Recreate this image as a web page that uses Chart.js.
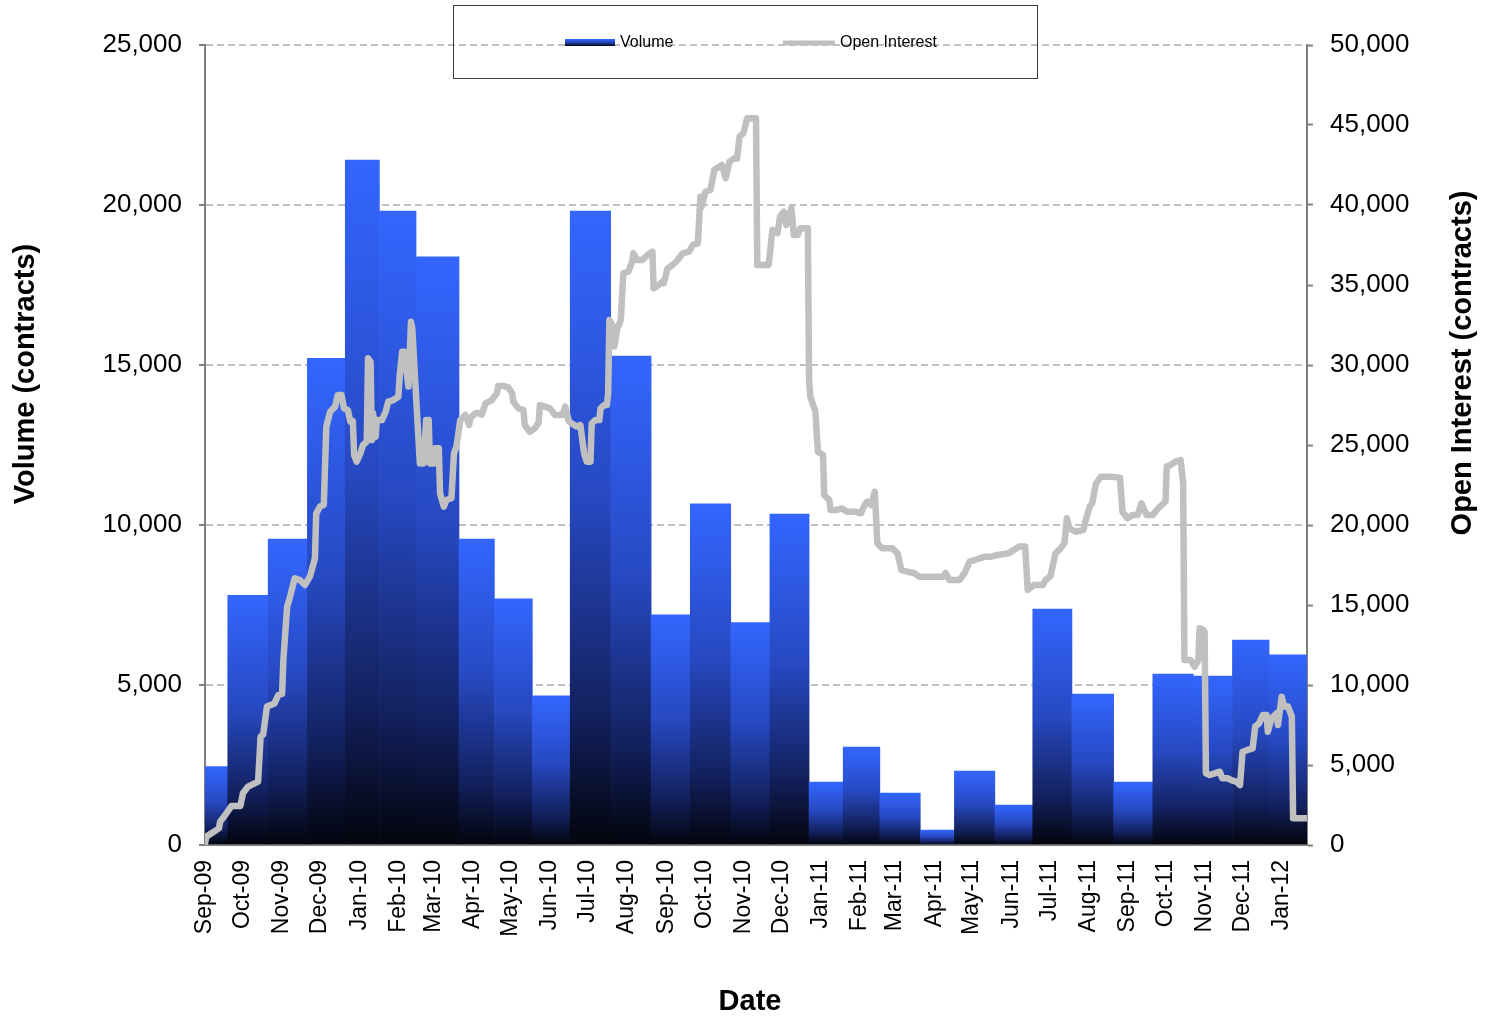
<!DOCTYPE html>
<html>
<head>
<meta charset="utf-8">
<title>Volume and Open Interest</title>
<script src="https://cdn.jsdelivr.net/npm/chart.js@4.4.1/dist/chart.umd.min.js"></script>
<style>
    html, body { margin: 0; padding: 0; background: #fff; }
    #wrap { width: 1485px; height: 1018px; }
</style>
</head>
<body>
<div id="wrap"><canvas id="grafico" width="1485" height="1018"></canvas></div>
<script>
// first trading day; every date below is counted in days from here
const startDate = '2009-09-01';

const monthLabels = ['Sep-09', 'Oct-09', 'Nov-09', 'Dec-09', 'Jan-10', 'Feb-10', 'Mar-10', 'Apr-10',
    'May-10', 'Jun-10', 'Jul-10', 'Aug-10', 'Sep-10', 'Oct-10', 'Nov-10', 'Dec-10', 'Jan-11', 'Feb-11',
    'Mar-11', 'Apr-11', 'May-11', 'Jun-11', 'Jul-11', 'Aug-11', 'Sep-11', 'Oct-11', 'Nov-11', 'Dec-11', 'Jan-12'];

// end of each volume period (one per month label)
const periodEnds = ['2009-09-19', '2009-10-21', '2009-11-21', '2009-12-21', '2010-01-17', '2010-02-15',
    '2010-03-21', '2010-04-18', '2010-05-18', '2010-06-17', '2010-07-19', '2010-08-20', '2010-09-20',
    '2010-10-22', '2010-11-22', '2010-12-23', '2011-01-19', '2011-02-17', '2011-03-21', '2011-04-17',
    '2011-05-19', '2011-06-18', '2011-07-19', '2011-08-21', '2011-09-21', '2011-10-23', '2011-11-23',
    '2011-12-22', '2012-01-21'];

const volume = [2450, 7800, 9560, 15210, 21400, 19810, 18380, 9560, 7690, 4660, 19810, 15280, 7190,
    10660, 6950, 10340, 1970, 3060, 1625, 470, 2310, 1250, 7375, 4720, 1970, 5340, 5280, 6400, 5940];

const oiDates = [
    '2009-09-01', '2009-09-02', '2009-09-12', '2009-09-13', '2009-09-17', '2009-09-22', '2009-09-29',
    '2009-10-01', '2009-10-05', '2009-10-13', '2009-10-15', '2009-10-17', '2009-10-20', '2009-10-26', '2009-10-29',
    '2009-11-01', '2009-11-02', '2009-11-05', '2009-11-07', '2009-11-11', '2009-11-15', '2009-11-19', '2009-11-23', '2009-11-27', '2009-11-28',
    '2009-12-01', '2009-12-04', '2009-12-06', '2009-12-09', '2009-12-13', '2009-12-15', '2009-12-18', '2009-12-20', '2009-12-23', '2009-12-25', '2009-12-27', '2009-12-28', '2009-12-30',
    '2010-01-02', '2010-01-04', '2010-01-07', '2010-01-08', '2010-01-10', '2010-01-11', '2010-01-12', '2010-01-14', '2010-01-15', '2010-01-19', '2010-01-22', '2010-01-24', '2010-01-28',
    '2010-02-01', '2010-02-02', '2010-02-04', '2010-02-06', '2010-02-08', '2010-02-09', '2010-02-11', '2010-02-12', '2010-02-18', '2010-02-21', '2010-02-23', '2010-02-25', '2010-02-26',
    '2010-03-01', '2010-03-02', '2010-03-05', '2010-03-06', '2010-03-09', '2010-03-11', '2010-03-15', '2010-03-17', '2010-03-19', '2010-03-22', '2010-03-26', '2010-03-29', '2010-03-30',
    '2010-04-03', '2010-04-05', '2010-04-08', '2010-04-11', '2010-04-16', '2010-04-20', '2010-04-21', '2010-04-25', '2010-04-29',
    '2010-05-02', '2010-05-03', '2010-05-07', '2010-05-11', '2010-05-12', '2010-05-16', '2010-05-20', '2010-05-23', '2010-05-24', '2010-05-28',
    '2010-06-01', '2010-06-05', '2010-06-11', '2010-06-13', '2010-06-16', '2010-06-20', '2010-06-22', '2010-06-25', '2010-06-28', '2010-06-30',
    '2010-07-03', '2010-07-04', '2010-07-07', '2010-07-10', '2010-07-11', '2010-07-14', '2010-07-16', '2010-07-17', '2010-07-18', '2010-07-21', '2010-07-22', '2010-07-24', '2010-07-27', '2010-07-29',
    '2010-08-02', '2010-08-05', '2010-08-06', '2010-08-09', '2010-08-13', '2010-08-17', '2010-08-21', '2010-08-22', '2010-08-26', '2010-08-29', '2010-08-30',
    '2010-09-02', '2010-09-06', '2010-09-10', '2010-09-14', '2010-09-19', '2010-09-22', '2010-09-26', '2010-09-28', '2010-09-29',
    '2010-10-02', '2010-10-06', '2010-10-09', '2010-10-13', '2010-10-15', '2010-10-18', '2010-10-21', '2010-10-25', '2010-10-27', '2010-10-29',
    '2010-11-01', '2010-11-04', '2010-11-11', '2010-11-12', '2010-11-21', '2010-11-24', '2010-11-28', '2010-11-30',
    '2010-12-03', '2010-12-05', '2010-12-09', '2010-12-11', '2010-12-14', '2010-12-16', '2010-12-22', '2010-12-23', '2010-12-24', '2010-12-28', '2010-12-30',
    '2011-01-03', '2011-01-04', '2011-01-08', '2011-01-09', '2011-01-14', '2011-01-18', '2011-01-22', '2011-01-28',
    '2011-02-02', '2011-02-05', '2011-02-07', '2011-02-10', '2011-02-13', '2011-02-15', '2011-02-19', '2011-02-27',
    '2011-03-03', '2011-03-06', '2011-03-11', '2011-03-16', '2011-03-20', '2011-03-29',
    '2011-04-08', '2011-04-10', '2011-04-13', '2011-04-21', '2011-04-25', '2011-04-29',
    '2011-05-03', '2011-05-07', '2011-05-11', '2011-05-16', '2011-05-21', '2011-05-30',
    '2011-06-03', '2011-06-07', '2011-06-12', '2011-06-14', '2011-06-19', '2011-06-26', '2011-06-28',
    '2011-07-02', '2011-07-06', '2011-07-10', '2011-07-13', '2011-07-15', '2011-07-17', '2011-07-22', '2011-07-28', '2011-07-30',
    '2011-08-02', '2011-08-04', '2011-08-07', '2011-08-11', '2011-08-19', '2011-08-26', '2011-08-28',
    '2011-09-01', '2011-09-05', '2011-09-09', '2011-09-12', '2011-09-16', '2011-09-21', '2011-09-24', '2011-09-28',
    '2011-10-01', '2011-10-02', '2011-10-05', '2011-10-09', '2011-10-13', '2011-10-15', '2011-10-16', '2011-10-21', '2011-10-24', '2011-10-27', '2011-10-28', '2011-10-31',
    '2011-11-01', '2011-11-02', '2011-11-05', '2011-11-09', '2011-11-13', '2011-11-15', '2011-11-19', '2011-11-22', '2011-11-26', '2011-11-29',
    '2011-12-01', '2011-12-05', '2011-12-09', '2011-12-11', '2011-12-14', '2011-12-17', '2011-12-20', '2011-12-21', '2011-12-24', '2011-12-28', '2011-12-29',
    '2012-01-01', '2012-01-03', '2012-01-06', '2012-01-09', '2012-01-10', '2012-01-21'];

const oiValues = [
    100, 520, 1040, 1460, 1875, 2440, 2440,
    3230, 3650, 3960, 6770, 6900, 8650, 8850, 9375,
    9450, 11560, 14900, 15420, 16670, 16560, 16250, 16770, 17920, 20730,
    21150, 21250, 26150, 27080, 27400, 28125, 28125, 27290, 27190, 26460, 26500, 24375, 23960,
    24480, 25000, 25200, 30420, 30200, 25310, 26980, 25500, 26560, 26560, 27080, 27710, 27810,
    28020, 29270, 30830, 30830, 29270, 28650, 32700, 32300, 23850, 23850, 26560, 26560, 23850,
    23850, 24790, 24790, 21980, 21150, 21560, 21670, 24480, 24900, 26560, 26875, 26250, 26700,
    26980, 27000, 26900, 27600, 27810, 28230, 28690, 28690, 28600,
    28230, 27710, 27290, 27190, 26250, 25830, 26040, 26400, 27500, 27400,
    27290, 26875, 26875, 27400, 26460, 26250, 26150, 26250, 24480, 23960,
    23960, 26350, 26560, 26560, 27290, 27500, 27500, 28230, 32810, 32400, 31150, 32190, 32810, 35730,
    35830, 36460, 36980, 36560, 36560, 36870, 37080, 34790, 35000, 35210, 35100,
    36040, 36250, 36560, 36980, 37080, 37500, 37600, 40520, 39900,
    40830, 40940, 42190, 42400, 42500, 41670, 42710, 42920, 42900, 44270,
    44480, 45420, 45420, 36250, 36250, 38440, 38230, 39270,
    39580, 38750, 39790, 38120, 38120, 38540, 38540, 29060, 28020, 27080, 24580,
    24375, 21870, 21560, 20940, 20940, 21040, 20830, 20830,
    20730, 21250, 21460, 21250, 22080, 18850, 18540, 18540,
    18230, 17190, 17080, 17000, 16770, 16770,
    16770, 17000, 16560, 16560, 16980, 17710,
    17810, 17920, 18020, 18020, 18125, 18230,
    18440, 18650, 18650, 15940, 16250, 16250, 16560,
    16800, 18230, 18540, 18850, 20420, 19790, 19580, 19690, 20310,
    21150, 21350, 22600, 23020, 23020, 22960, 20830,
    20420, 20630, 20630, 21350, 20630, 20630, 20940, 21250,
    21460, 23650, 23750, 23960, 24060, 22600, 11560, 11560, 11150, 11560, 13540, 13440,
    13300, 4480, 4375, 4480, 4580, 4170, 4170, 4060, 3960, 3750,
    5830, 5940, 6040, 7400, 7600, 8125, 8125, 7080, 7920, 8230, 7500,
    9270, 8650, 8650, 8020, 1670, 1670];

const volumeTitle = 'Volume (contracts)';
const oiTitle = 'Open Interest (contracts)';
const dateTitle = 'Date';

const fonte = '"Liberation Sans", Arial, Helvetica, sans-serif';
Chart.defaults.font.family = fonte;
Chart.defaults.color = '#000';

const dia = (s) => (Date.parse(s) - Date.parse(startDate)) / 86400000;

// bars: a null point on each period edge and the value in between,
// so the flex bar runs exactly from one edge to the next
const barData = [];
let inicio = startDate;
periodEnds.forEach((fim, i) => {
    barData.push({ x: dia(inicio), y: null });
    barData.push({ x: (dia(inicio) + dia(fim)) / 2, y: volume[i] });
    inicio = fim;
});
barData.push({ x: dia(inicio), y: null });

const oiData = oiDates.map((d, i) => ({ x: dia(d), y: oiValues[i] }));

const monthTicks = monthLabels.map((_, i) => (Date.UTC(2009, 8 + i, 1) - Date.parse(startDate)) / 86400000);

function gradienteAzul(ctx, top, base) {
    const g = ctx.createLinearGradient(0, top, 0, base);
    g.addColorStop(0, '#3366ff');
    g.addColorStop(0.45, '#2749c2');
    g.addColorStop(0.8, '#12205c');
    g.addColorStop(1, '#03040c');
    return g;
}

const legendaCaixa = {
    id: 'legendaCaixa',
    afterDraw(chart) {
        const ctx = chart.ctx;
        const sets = chart.data.datasets;
        ctx.save();
        ctx.strokeStyle = '#3a3a3a';
        ctx.lineWidth = 1;
        ctx.strokeRect(453.5, 5.5, 584, 73);

        ctx.fillStyle = gradienteAzul(ctx, 39, 46);
        ctx.fillRect(565, 39, 50, 7);

        ctx.strokeStyle = '#c0c0c0';
        ctx.lineWidth = 5;
        ctx.beginPath();
        ctx.moveTo(783, 43);
        ctx.lineTo(835, 43);
        ctx.stroke();

        ctx.fillStyle = '#000';
        ctx.font = '16px ' + fonte;
        ctx.textBaseline = 'middle';
        ctx.textAlign = 'left';
        ctx.fillText(sets[0].label, 620, 43);
        ctx.fillText(sets[1].label, 840, 43);
        ctx.restore();
    }
};

const titulosEixos = {
    id: 'titulosEixos',
    afterDraw(chart) {
        const ctx = chart.ctx;
        ctx.save();
        ctx.fillStyle = '#000';
        ctx.font = 'bold 29px ' + fonte;
        ctx.textAlign = 'center';
        ctx.textBaseline = 'middle';
        ctx.fillText(dateTitle, 750, 1002);

        ctx.save();
        ctx.translate(26, 374);
        ctx.rotate(-Math.PI / 2);
        ctx.fillText(volumeTitle, 0, 0);
        ctx.restore();

        ctx.translate(1463, 363);
        ctx.rotate(-Math.PI / 2);
        ctx.fillText(oiTitle, 0, 0);
        ctx.restore();
    }
};

const eixoCor = '#7f7f7f';

new Chart(document.getElementById('grafico'), {
    type: 'bar',
    data: {
        datasets: [
            {
                type: 'bar',
                label: 'Volume',
                data: barData,
                xAxisID: 'x',
                yAxisID: 'y',
                order: 1,
                barThickness: 'flex',
                categoryPercentage: 2,
                barPercentage: 1,
                borderWidth: 0,
                backgroundColor: (c) => {
                    const chart = c.chart;
                    if (!chart.chartArea || c.type !== 'data' || !c.raw || c.raw.y == null) {
                        return '#3366ff';
                    }
                    const y = chart.scales.y;
                    return gradienteAzul(chart.ctx, y.getPixelForValue(c.raw.y), y.getPixelForValue(0));
                }
            },
            {
                type: 'line',
                label: 'Open Interest',
                data: oiData,
                xAxisID: 'x',
                yAxisID: 'y1',
                order: 0,
                borderColor: '#c0c0c0',
                borderWidth: 6.5,
                borderJoinStyle: 'round',
                borderCapStyle: 'round',
                pointRadius: 0,
                tension: 0,
                fill: false
            }
        ]
    },
    options: {
        responsive: false,
        animation: false,
        layout: { padding: { top: 45, left: 0, right: 0, bottom: 0 } },
        plugins: {
            legend: { display: false },
            tooltip: { enabled: false }
        },
        scales: {
            x: {
                type: 'linear',
                min: 0,
                max: dia(periodEnds[periodEnds.length - 1]),
                offset: false,
                grid: { display: false, drawTicks: false, offset: false },
                border: { display: true, color: eixoCor, width: 2 },
                afterBuildTicks: (scale) => {
                    scale.ticks = monthTicks.map(v => ({ value: v }));
                },
                afterFit: (scale) => { scale.height = 173; },
                ticks: {
                    autoSkip: false,
                    minRotation: 90,
                    maxRotation: 90,
                    padding: 15,
                    font: { size: 23 },
                    callback: (value, index) => monthLabels[index]
                }
            },
            y: {
                position: 'left',
                min: 0,
                max: 25000,
                afterFit: (scale) => { scale.width = 205; },
                grid: {
                    color: '#c0c0c0',
                    lineWidth: 2,
                    drawTicks: true,
                    tickLength: 6,
                    tickColor: eixoCor,
                    tickWidth: 2
                },
                border: { display: true, color: eixoCor, width: 2, dash: [7, 4] },
                ticks: {
                    stepSize: 5000,
                    padding: 17,
                    font: { size: 26 },
                    callback: (v) => v.toLocaleString('en-US')
                }
            },
            y1: {
                position: 'right',
                min: 0,
                max: 50000,
                afterFit: (scale) => { scale.width = 178; },
                grid: {
                    drawOnChartArea: false,
                    drawTicks: true,
                    tickLength: 6,
                    tickColor: eixoCor,
                    tickWidth: 2
                },
                border: { display: true, color: eixoCor, width: 2 },
                ticks: {
                    stepSize: 5000,
                    padding: 17,
                    font: { size: 26 },
                    callback: (v) => v.toLocaleString('en-US')
                }
            }
        }
    },
    plugins: [legendaCaixa, titulosEixos]
});
</script>
</body>
</html>
